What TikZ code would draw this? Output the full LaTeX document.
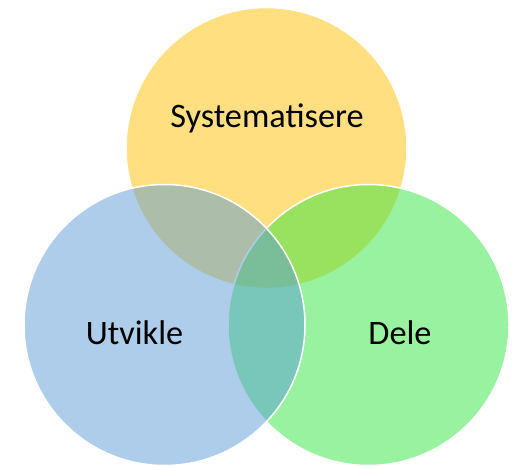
\documentclass[tikz,border=0pt]{standalone}
\usepackage{fontspec}
\setmainfont{Carlito}
\definecolor{cyellow}{RGB}{255,192,0}
\definecolor{cblue}{RGB}{91,155,213}
\definecolor{cgreen}{RGB}{51,229,63}
\begin{document}
\begin{tikzpicture}[x=1pt,y=1pt,
  venn/.style={circle,minimum size=281pt,inner sep=0pt,draw=white,line width=1.5pt,fill opacity=0.5},
  lbl/.style={anchor=base,font=\fontsize{34.3}{40}\selectfont,text=black}]
\useasboundingbox (0,0) rectangle (521,465);
\node[venn,fill=cyellow] (top) at (266.5,317) {};
\node[venn,fill=cgreen] (right) at (368.5,140) {};
\node[venn,fill=cblue] (left) at (164.5,140) {};
\node[lbl] (t1) at (267,337) {Systematisere};
\node[lbl] (t2) at (134.5,120) {Utvikle};
\node[lbl] (t3) at (400,120) {Dele};
\end{tikzpicture}
\end{document}
